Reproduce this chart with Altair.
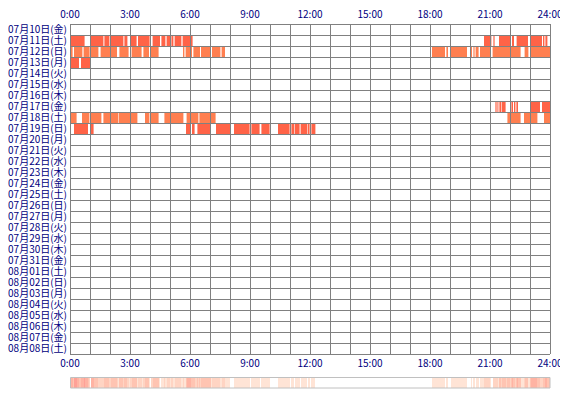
import altair as alt
import pandas as pd
import numpy as np

# Row labels (one row per day)
days = [
    "07月10日(金)", "07月11日(土)", "07月12日(日)", "07月13日(月)", "07月14日(火)",
    "07月15日(水)", "07月16日(木)", "07月17日(金)", "07月18日(土)", "07月19日(日)",
    "07月20日(月)", "07月21日(火)", "07月22日(水)", "07月23日(木)", "07月24日(金)",
    "07月25日(土)", "07月26日(日)", "07月27日(月)", "07月28日(火)", "07月29日(水)",
    "07月30日(木)", "07月31日(金)", "08月01日(土)", "08月02日(日)", "08月03日(月)",
    "08月04日(火)", "08月05日(水)", "08月06日(木)", "08月07日(金)", "08月08日(土)",
]
hour_ticks = [0, 3, 6, 9, 12, 15, 18, 21, 24]
hour_labels = ["0:00", "3:00", "6:00", "9:00", "12:00", "15:00", "18:00", "21:00", "24:00"]

active_days = ["07月11日(土)", "07月12日(日)", "07月13日(月)", "07月17日(金)", "07月18日(土)", "07月19日(日)"]
row_kind = ["A", "B", "A", "A", "B", "A"]

# active intervals (start hour, end hour) per day
seg_0711 = [(0.0, 0.73), (1.03, 1.67), (1.72, 1.97), (2.03, 2.67), (2.72, 2.87), (3.0, 3.33),
            (3.4, 3.98), (4.13, 4.5), (4.57, 4.77), (4.83, 5.0), (5.07, 5.17), (5.23, 5.57),
            (5.63, 6.13), (20.7, 21.07), (21.17, 21.23), (21.45, 22.0), (22.1, 22.2),
            (22.33, 22.9), (23.03, 23.6), (23.65, 23.72), (23.77, 23.87)]
seg_0712 = [(0.0, 0.13), (0.2, 0.62), (0.68, 0.98), (1.03, 1.42), (1.53, 2.35), (2.47, 2.93),
            (3.08, 3.58), (3.67, 3.95), (4.03, 4.43), (5.65, 5.72), (5.78, 6.1), (6.17, 6.5),
            (6.55, 7.05), (7.1, 7.52), (7.58, 7.75), (18.1, 18.75), (18.82, 18.9),
            (19.03, 19.85), (20.03, 20.1), (20.17, 20.23), (20.28, 20.43), (20.5, 21.0),
            (21.13, 22.53), (22.73, 22.92), (23.0, 24.0)]
seg_0713 = [(0.0, 0.45), (0.55, 1.0)]
seg_0717 = [(21.27, 21.33), (21.37, 21.42), (21.47, 21.55), (21.58, 21.78), (22.07, 22.15),
            (22.2, 22.27), (22.32, 22.4), (23.0, 23.5), (23.6, 24.0)]
seg_0718 = [(0.0, 0.33), (0.6, 0.97), (1.03, 1.57), (1.67, 2.4), (2.43, 3.37), (3.75, 3.97),
            (4.05, 4.43), (4.72, 5.67), (5.83, 6.42), (6.47, 7.28), (21.87, 22.53),
            (22.7, 23.37), (23.7, 24.0)]
seg_0719 = [(0.2, 0.9), (1.03, 1.18), (5.8, 6.03), (6.1, 6.23), (6.37, 7.03), (7.3, 8.0),
            (8.2, 8.98), (9.07, 9.48), (9.57, 9.98), (10.4, 10.98), (11.07, 11.2),
            (11.23, 11.48), (11.53, 11.87), (11.9, 11.98), (12.07, 12.27)]
segments = [seg_0711, seg_0712, seg_0713, seg_0717, seg_0718, seg_0719]

# ---- tables ----
recs = []
for d, k, segs in zip(active_days, row_kind, segments):
    r = days.index(d)
    for s, e in segs:
        recs.append(dict(day=d, row=r, row2=r + 1, start=s, end=e, kind=k))
seg_df = pd.DataFrame(recs)

ROW_PX = 11
H = 365
strip_top = (378 - 24) / ROW_PX
strip_bot = (388 - 24) / ROW_PX
frame_top = (377 - 24) / ROW_PX

# density strip: how many days are active at each time bin
edges = np.linspace(0, 24, 481)
centers = (edges[:-1] + edges[1:]) / 2
counts = np.zeros(len(centers), dtype=int)
for segs in segments:
    for s, e in segs:
        counts += ((centers >= s) & (centers < e)).astype(int)
strip_df = pd.DataFrame({"b0": edges[:-1], "b1": edges[1:], "n": counts,
                         "yt": strip_top, "yb": strip_bot})
strip_df = strip_df[strip_df.n > 0]

xs = alt.Scale(domain=[0, 24], nice=False, zero=False)
ys = alt.Scale(domain=[0, H / ROW_PX], nice=False, zero=False, reverse=True)

bars = alt.Chart(seg_df).mark_rect().encode(
    x=alt.X("start:Q", scale=xs, axis=None), x2="end:Q",
    y=alt.Y("row:Q", scale=ys, axis=None), y2="row2:Q",
    color=alt.Color("kind:N", scale=alt.Scale(domain=["A", "B"], range=["#FF6347", "#FF7F50"]), legend=None),
)

n_rows = len(days)
hgrid_df = pd.DataFrame({"r": list(range(n_rows + 1)), "x0": 0, "x1": 24})
hgrid = alt.Chart(hgrid_df).mark_rule(color="#808080", strokeWidth=1, yOffset=0.5).encode(
    y=alt.Y("r:Q", scale=ys, axis=None),
    x=alt.X("x0:Q", scale=xs, axis=None), x2="x1:Q",
)

vgrid_df = pd.DataFrame({"h": list(range(25)), "y0": 0, "y1": n_rows})
vgrid = alt.Chart(vgrid_df).mark_rule(color="#808080", strokeWidth=1, xOffset=0.5).encode(
    x=alt.X("h:Q", scale=xs, axis=None),
    y=alt.Y("y0:Q", scale=ys, axis=None), y2="y1:Q",
)

days_df = pd.DataFrame({"day": days, "yc": [i + 0.5 for i in range(n_rows)]})
day_text = alt.Chart(days_df).mark_text(
    align="right", baseline="middle", fontSize=10, color="#000080", font="Noto Sans CJK JP"
).encode(x=alt.value(-3), y=alt.Y("yc:Q", scale=ys, axis=None), text="day:N")

hours_df = pd.DataFrame({"h": hour_ticks, "lab": hour_labels})
top_text = alt.Chart(hours_df).mark_text(
    align="center", baseline="middle", fontSize=10, color="#000080", font="Noto Sans CJK JP"
).encode(x=alt.X("h:Q", scale=xs, axis=None), y=alt.value(-9), text="lab:N")
bot_text = alt.Chart(hours_df).mark_text(
    align="center", baseline="middle", fontSize=10, color="#000080", font="Noto Sans CJK JP"
).encode(x=alt.X("h:Q", scale=xs, axis=None), y=alt.value(340), text="lab:N")

strip = alt.Chart(strip_df).mark_rect().encode(
    x=alt.X("b0:Q", scale=xs, axis=None), x2="b1:Q",
    y=alt.Y("yt:Q", scale=ys, axis=None), y2="yb:Q",
    fill=alt.Fill("n:Q", scale=alt.Scale(domain=[1, 4], range=["#FFE4D6", "#FFB3A3"]), legend=None),
)
frame_df = pd.DataFrame({"x0": [0], "x1": [24], "yt": [frame_top], "yb": [strip_bot]})
strip_frame = alt.Chart(frame_df).mark_rect(
    fillOpacity=0, stroke="#C0C0C0", strokeWidth=1, xOffset=0.5, yOffset=0.5
).encode(
    x=alt.X("x0:Q", scale=xs, axis=None), x2="x1:Q",
    y=alt.Y("yt:Q", scale=ys, axis=None), y2="yb:Q",
)

chart = alt.layer(bars, hgrid, vgrid, strip, strip_frame, day_text, top_text, bot_text).properties(
    width=480, height=H,
    autosize=alt.AutoSizeParams(type="none"),
    padding={"left": 62, "top": 16, "right": 10, "bottom": 5},
    background="white",
).configure_view(stroke=None)

chart.save("out.html", embed_options={"renderer": "svg", "actions": False})
